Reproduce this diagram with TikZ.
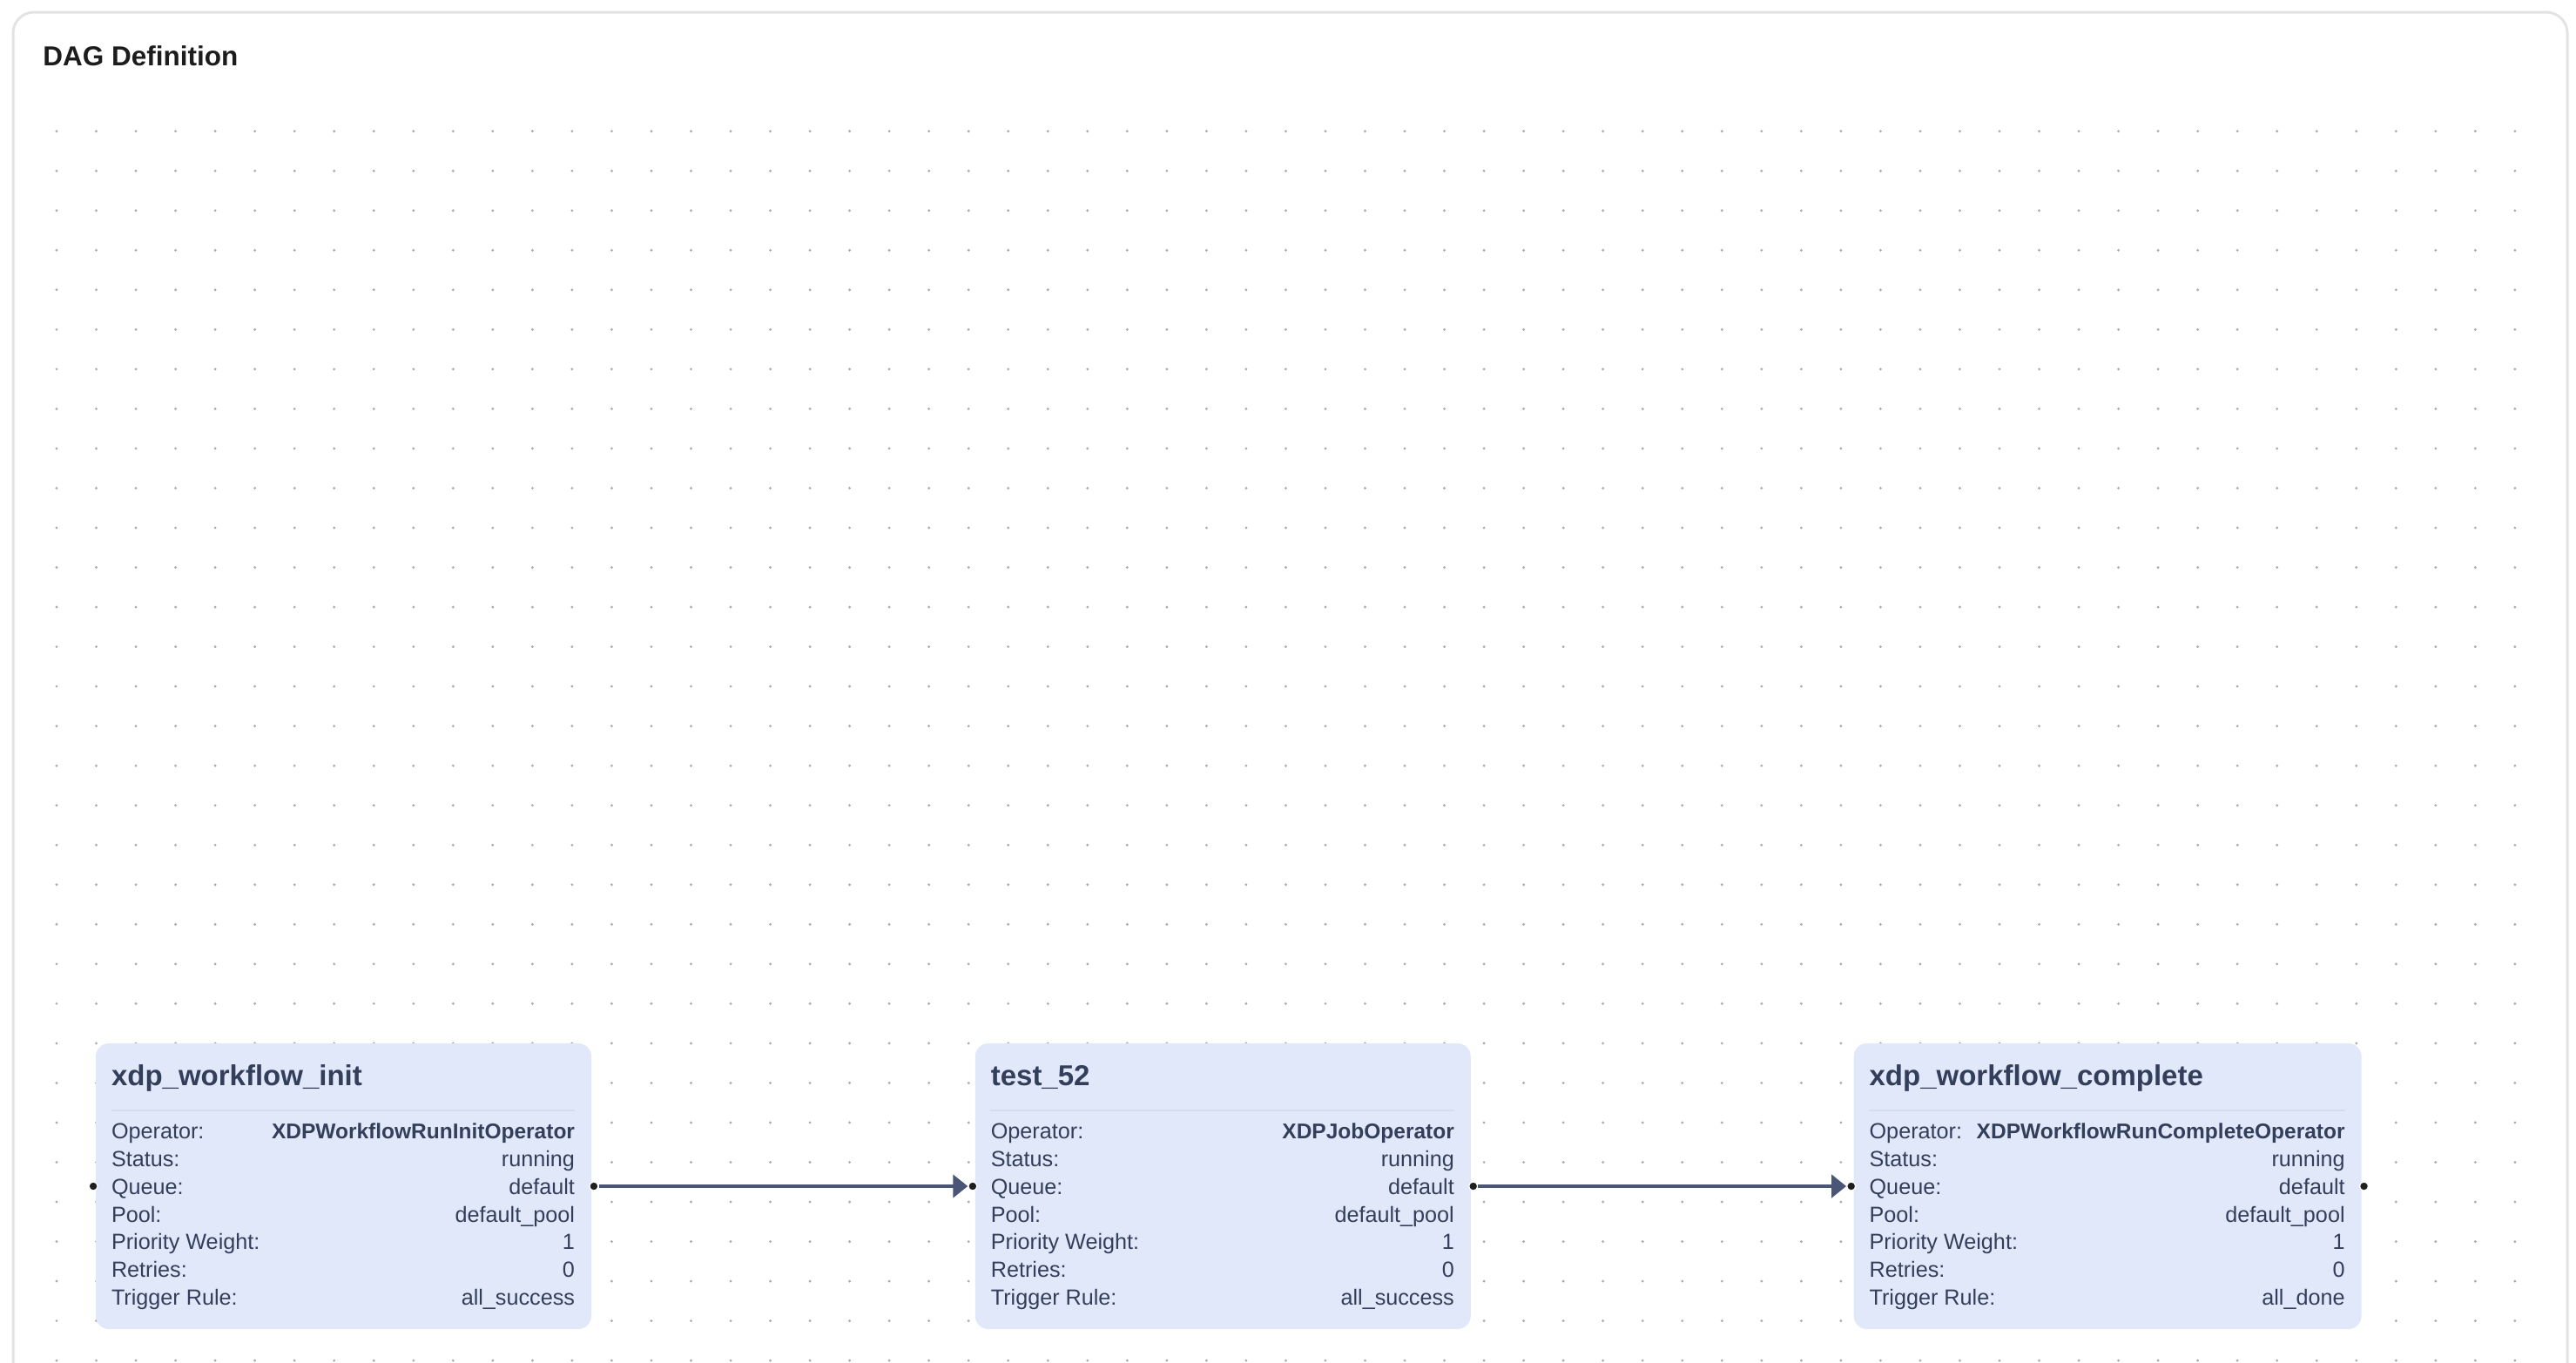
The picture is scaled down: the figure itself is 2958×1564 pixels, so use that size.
\documentclass[tikz,border=0pt]{standalone}
\usepackage{fontspec}
\setmainfont{Liberation Sans}
\usetikzlibrary{arrows.meta,calc,positioning}
\definecolor{framegray}{HTML}{E3E3E3}
\definecolor{dotgray}{HTML}{ABABAB}
\definecolor{taskfill}{HTML}{E1E8FA}
\definecolor{taskline}{HTML}{D5DCEC}
\definecolor{tasktext}{HTML}{333E5A}
\definecolor{edgeblue}{HTML}{4A5578}
\definecolor{headblack}{HTML}{1C1C1C}

\begin{document}
\begin{tikzpicture}[x=0.5pt, y=-0.5pt,
    taskbox/.style={rectangle, rounded corners=7.5pt, fill=taskfill, minimum height=164pt, inner sep=0pt},
    tasktitle/.style={anchor=base west, inner sep=0pt, text=tasktext, font=\fontsize{16.5}{19}\selectfont\bfseries},
    fieldkey/.style={anchor=base west, inner sep=0pt, text=tasktext, font=\fontsize{12.6}{14}\selectfont},
    fieldval/.style={fieldkey, anchor=base east},
    handle/.style={circle, fill=black!88, draw=white, line width=0.6pt, inner sep=0pt, minimum size=5pt},
    flow/.style={draw=edgeblue, line width=2.3pt, -{Triangle[length=8.5pt, width=13pt]}}]
  \useasboundingbox (0,0) rectangle (2958,1564);

  % dotted canvas
  \foreach \i in {0,...,62}
    \foreach \j in {0,...,31}
      \fill[dotgray] (65+45.53*\i, 150.7+45.53*\j) circle[radius=0.8pt];
  \draw[framegray, line width=1.5pt, rounded corners=12pt] (15,1580) -- (15,14) -- (2948,14) -- (2948,1580);
  \node[anchor=base west, inner sep=0pt, text=headblack, font=\fontsize{15.75}{18}\selectfont\bfseries] (heading) at (49,75) {DAG Definition};

  % tasks
  \node[taskbox, minimum width=284.5pt] (init) at (394.5,1362) {};
  \node[taskbox, minimum width=284.5pt, right=220pt of init] (test) {};
  \node[taskbox, minimum width=291.5pt, right=219.5pt of test] (done) {};

  \foreach \task/\name/\oper/\trig in {init/xdp\_workflow\_init/XDPWorkflowRunInitOperator/all\_success,
      test/test\_52/XDPJobOperator/all\_success,
      done/xdp\_workflow\_complete/XDPWorkflowRunCompleteOperator/all\_done} {
    \node[tasktitle] (\task-title) at ($(\task.north west)+(18,49)$) {\name};
    \draw[taskline, line width=1pt] ($(\task.north west)+(18,77)$) -- ($(\task.north east)+(-19,77)$);
    \node[fieldkey] (\task-k0) at ($(\task.north west)+(18,110)$) {Operator:};
    \node[fieldval] (\task-v0) at ($(\task.north east)+(-19,110)$) {\fontsize{12.25}{14}\selectfont\bfseries\oper};
    \foreach \key/\val [count=\k] in {Status:/running, Queue:/default, Pool:/default\_pool, Priority Weight:/1, Retries:/0} {
      \node[fieldkey] (\task-k\k) at ($(\task.north west)+(18,110+31.8*\k)$) {\key};
      \node[fieldval] (\task-v\k) at ($(\task.north east)+(-19,110+31.8*\k)$) {\val};
    }
    \node[fieldkey] (\task-k6) at ($(\task.north west)+(18,301)$) {Trigger Rule:};
    \node[fieldval] (\task-v6) at ($(\task.north east)+(-19,301)$) {\trig};
    \node[handle] (\task-in) at ($(\task.west)+(-2.5,0)$) {};
    \node[handle] (\task-out) at ($(\task.east)+(2.5,0)$) {};
  }

  % edges
  \draw[flow] (init-out) -- (test-in);
  \draw[flow] (test-out) -- (done-in);
\end{tikzpicture}
\end{document}
